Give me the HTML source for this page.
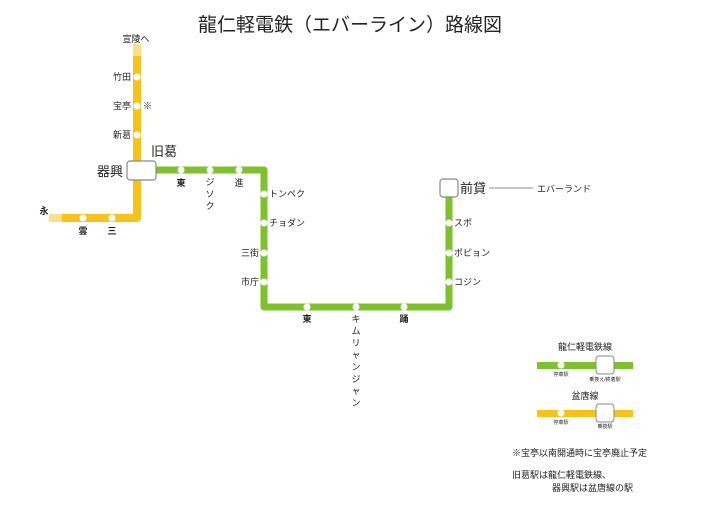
<!DOCTYPE html>
<html><head><meta charset="utf-8"><style>
body{margin:0;background:#fff}
svg{display:block}
text{font-family:"Liberation Sans","Noto Sans CJK JP",sans-serif;fill:#222}
</style></head><body>
<svg width="726" height="512" viewBox="0 0 726 512" xmlns="http://www.w3.org/2000/svg">
<text x="350" y="31" font-size="19" text-anchor="middle">龍仁軽電鉄（エバーライン）路線図</text>
<!-- yellow line -->
<rect x="133" y="44" width="8" height="12" fill="#fbe08a"/>
<path d="M137 56 V218 H62" stroke="#f7c21a" stroke-width="8" fill="none" stroke-linejoin="round"/>
<rect x="49" y="214" width="13" height="8" fill="#fbe08a"/>
<!-- green line -->
<path d="M156 170 H264 V307 H449 V190" stroke="#7dc22a" stroke-width="7" fill="none" stroke-linejoin="round"/>
<g fill="#fff">
<circle cx="137" cy="77" r="3.5"/><circle cx="137" cy="106" r="3.5"/><circle cx="137" cy="135" r="3.5"/>
<circle cx="83" cy="218" r="3.5"/><circle cx="112" cy="218" r="3.5"/>
<circle cx="181" cy="170" r="3.5"/><circle cx="210" cy="170" r="3.5"/><circle cx="239" cy="170" r="3.5"/>
<circle cx="264" cy="194" r="3.5"/><circle cx="264" cy="223" r="3.5"/><circle cx="264" cy="253" r="3.5"/><circle cx="264" cy="282" r="3.5"/>
<circle cx="307" cy="307" r="3.5"/><circle cx="356" cy="307" r="3.5"/><circle cx="404" cy="307" r="3.5"/>
<circle cx="449" cy="223" r="3.5"/><circle cx="449" cy="253" r="3.5"/><circle cx="449" cy="282" r="3.5"/>
</g>
<rect x="127" y="161" width="29" height="19" rx="3" fill="#fff" stroke="#888" stroke-width="1.2"/>
<rect x="440" y="179" width="18" height="18" rx="3" fill="#fff" stroke="#888" stroke-width="1.2"/>
<g font-size="9">
<text x="136" y="42" text-anchor="middle">宣陵へ</text>
<text x="131" y="80" text-anchor="end">竹田</text>
<text x="131" y="109" text-anchor="end">宝亭</text>
<text x="143" y="109">※</text>
<text x="131" y="138" text-anchor="end">新葛</text>
<text x="44" y="214" text-anchor="middle" font-weight="bold">永</text>
<text x="83" y="234" text-anchor="middle" font-weight="bold">雲</text>
<text x="112" y="234" text-anchor="middle" font-weight="bold">三</text>
<text x="181" y="186" text-anchor="middle" font-weight="bold">東</text>
<text x="210" y="185" text-anchor="middle">ジ</text><text x="210" y="197" text-anchor="middle">ソ</text><text x="210" y="209" text-anchor="middle">ク</text>
<text x="239" y="186" text-anchor="middle">進</text>
<text x="269" y="197">トンペク</text>
<text x="269" y="226">チョダン</text>
<text x="259" y="256" text-anchor="end">三街</text>
<text x="259" y="285" text-anchor="end">市庁</text>
<text x="307" y="322" text-anchor="middle" font-weight="bold">東</text>
<text x="404" y="322" text-anchor="middle" font-weight="bold">踊</text>
<g text-anchor="middle"><text x="356" y="322">キ</text><text x="356" y="334">ム</text><text x="356" y="346">リ</text><text x="356" y="358">ャ</text><text x="356" y="370">ン</text><text x="356" y="382">ジ</text><text x="356" y="394">ャ</text><text x="356" y="406">ン</text></g>
<text x="454" y="226">スポ</text>
<text x="454" y="256">ポピョン</text>
<text x="454" y="285">コジン</text>
<text x="537" y="192">エバーランド</text>
</g>
<text x="123" y="176" font-size="13" text-anchor="end">器興</text>
<text x="151" y="156" font-size="13">旧葛</text>
<text x="460" y="193" font-size="13">前貸</text>
<line x1="489" y1="188" x2="533" y2="188" stroke="#666" stroke-width="0.8"/>
<!-- legend -->
<text x="585" y="350" font-size="9" text-anchor="middle">龍仁軽電鉄線</text>
<rect x="537" y="362" width="96" height="7" fill="#7dc22a"/>
<circle cx="561" cy="365" r="3.5" fill="#fff"/>
<rect x="596" y="356" width="18" height="18" rx="3" fill="#fff" stroke="#888"/>
<text x="561" y="376" font-size="5" text-anchor="middle">停車駅</text>
<text x="605" y="381" font-size="5" text-anchor="middle">乗換え/終着駅</text>
<text x="585" y="399" font-size="9" text-anchor="middle">盆唐線</text>
<rect x="537" y="410" width="96" height="7" fill="#f7c21a"/>
<circle cx="561" cy="413" r="3.5" fill="#fff"/>
<rect x="596" y="404" width="18" height="18" rx="3" fill="#fff" stroke="#888"/>
<text x="561" y="424" font-size="5" text-anchor="middle">停車駅</text>
<text x="605" y="428" font-size="5" text-anchor="middle">乗換駅</text>
<g font-size="9">
<text x="512" y="456">※宝亭以南開通時に宝亭廃止予定</text>
<text x="512" y="478">旧葛駅は龍仁軽電鉄線、</text>
<text x="552" y="491">器興駅は盆唐線の駅</text>
</g>
</svg>
</body></html>
